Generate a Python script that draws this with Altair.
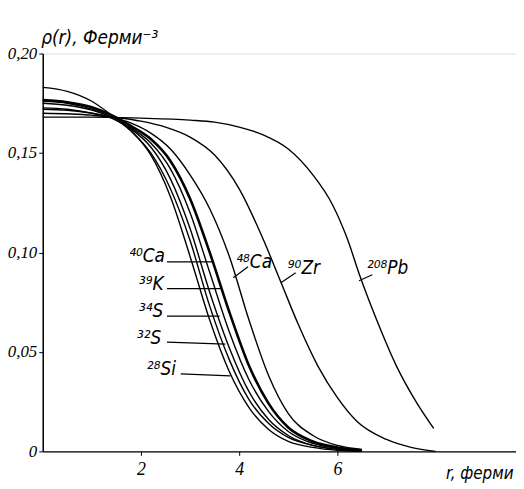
import altair as alt
import pandas as pd

# ---- data ----
r_light = [0, 0.5, 1.0, 1.4, 1.8, 2.2, 2.6, 3.0, 3.4, 3.8, 4.2, 4.6, 5.0, 5.5, 6.0, 6.5]
si28 = [0.176, 0.175, 0.172, 0.168, 0.161, 0.149, 0.128, 0.098, 0.066, 0.040, 0.022, 0.011, 0.005, 0.002, 0.0005, 0.0]
s32 = [0.183, 0.181, 0.176, 0.169, 0.161, 0.150, 0.132, 0.106, 0.073, 0.046, 0.026, 0.014, 0.007, 0.003, 0.001, 0.0]
s34 = [0.1727, 0.172, 0.170, 0.1675, 0.162, 0.153, 0.137, 0.112, 0.080, 0.052, 0.030, 0.016, 0.008, 0.003, 0.001, 0.0]
k39 = [0.175, 0.174, 0.1715, 0.168, 0.1625, 0.155, 0.142, 0.120, 0.090, 0.060, 0.036, 0.020, 0.010, 0.004, 0.0015, 0.0]
ca40 = [0.1766, 0.1755, 0.173, 0.169, 0.1635, 0.157, 0.146, 0.127, 0.100, 0.070, 0.043, 0.024, 0.012, 0.005, 0.002, 0.0005]
ca48 = [0.172, 0.1715, 0.170, 0.168, 0.165, 0.160, 0.152, 0.139, 0.122, 0.098, 0.066, 0.038, 0.019, 0.008, 0.003, 0.001]

r_zr = [0, 1, 2, 2.5, 3, 3.5, 4, 4.5, 4.85, 5.2, 5.6, 6.0, 6.4, 7.0, 7.5, 8.0]
zr90 = [0.170, 0.169, 0.166, 0.163, 0.158, 0.149, 0.132, 0.106, 0.085, 0.064, 0.043, 0.027, 0.015, 0.006, 0.002, 0.0]

r_pb = [0, 1, 2, 3, 3.5, 4, 4.5, 5, 5.5, 5.9, 6.2, 6.46, 6.8, 7.2, 7.6, 7.96]
pb208 = [0.168, 0.168, 0.1675, 0.1665, 0.1655, 0.163, 0.159, 0.152, 0.139, 0.124, 0.107, 0.088, 0.066, 0.043, 0.025, 0.0115]

label_text = ["⁴⁰Ca", "³⁹K", "³⁴S", "³²S", "²⁸Si", "⁴⁸Ca", "⁹⁰Zr", "²⁰⁸Pb"]
label_r = [1.76, 1.96, 1.96, 1.92, 2.12, 3.94, 4.99, 6.60]
label_rho = [0.098, 0.0843, 0.0703, 0.0569, 0.0414, 0.0953, 0.0923, 0.0923]
lead_r1 = [2.53, 2.53, 2.53, 2.53, 2.81, 3.88, 4.85, 6.44]
lead_r2 = [3.47, 3.62, 3.60, 3.72, 3.82, 4.18, 5.15, 6.71]
lead_y1 = [0.0953, 0.0818, 0.0680, 0.0549, 0.0390, 0.0873, 0.0848, 0.0858]
lead_y2 = [0.0953, 0.0818, 0.0680, 0.0539, 0.0380, 0.0928, 0.0898, 0.0888]

y_ticks = [0, 0.05, 0.10, 0.15, 0.20]
x_ticks = [2, 4, 6]

# ---- tables ----
rows = []
for name, rs, vals in [("28Si", r_light, si28), ("32S", r_light, s32), ("34S", r_light, s34),
                       ("39K", r_light, k39), ("48Ca", r_light, ca48),
                       ("90Zr", r_zr, zr90), ("208Pb", r_pb, pb208)]:
    for a, b in zip(rs, vals):
        rows.append({"nuc": name, "r": a, "rho": b})
df = pd.DataFrame(rows)
df_ca = pd.DataFrame({"nuc": "40Ca", "r": r_light, "rho": ca40})
labels = pd.DataFrame({"t": label_text, "r": label_r, "rho": label_rho})
leads = pd.DataFrame({"r1": lead_r1, "r2": lead_r2, "y1": lead_y1, "y2": lead_y2})

FONT = "DejaVu Sans Condensed"
NARROW = "Liberation Sans Narrow"
xs = alt.Scale(domain=[0, 9.636], nice=False, zero=False)
ys = alt.Scale(domain=[0, 0.2], nice=False)

x_axis = alt.Axis(values=x_ticks, title="r, ферми", grid=False, tickSize=4,
                  labelFontSize=18, labelPadding=5, labelFont=NARROW, labelFontStyle="italic",
                  titleFont=FONT, titleFontStyle="italic", titleFontWeight="normal", titleFontSize=17,
                  titleAnchor="end", titleAlign="right", titleX=474, titleY=27,
                  titleBaseline="alphabetic", domainColor="black", domainWidth=1.5,
                  tickColor="black", labelColor="black", titleColor="black")
y_axis = alt.Axis(values=y_ticks, title="ρ(r), Ферми⁻³", grid=False, tickSize=4,
                  labelExpr="datum.value == 0 ? '0' : replace(format(datum.value, '.2f'), '.', ',')",
                  labelFontSize=17, labelPadding=2, labelFont=NARROW, labelFontStyle="italic",
                  titleFont=FONT, titleFontStyle="italic", titleFontWeight="normal", titleFontSize=19,
                  titleAngle=0, titleAlign="left", titleBaseline="alphabetic", titleX=-2, titleY=-10,
                  domainColor="black", domainWidth=1.5, tickColor="black", labelColor="black",
                  titleColor="black")

lines = alt.Chart(df).mark_line(interpolate="monotone", color="black", strokeWidth=1.4).encode(
    x=alt.X("r:Q", scale=xs, axis=x_axis),
    y=alt.Y("rho:Q", scale=ys, axis=y_axis),
    detail="nuc:N",
)
ca_line = alt.Chart(df_ca).mark_line(interpolate="monotone", color="black", strokeWidth=2.6).encode(
    x=alt.X("r:Q", scale=xs), y=alt.Y("rho:Q", scale=ys)
)
leaders = alt.Chart(leads).mark_rule(color="black", strokeWidth=1.2).encode(
    x=alt.X("r1:Q", scale=xs), x2="r2:Q", y=alt.Y("y1:Q", scale=ys), y2="y2:Q"
)
texts = alt.Chart(labels).mark_text(align="left", baseline="middle", font=FONT, fontSize=19,
                                    fontStyle="italic", color="black").encode(
    x=alt.X("r:Q", scale=xs), y=alt.Y("rho:Q", scale=ys), text="t:N"
)

chart = alt.layer(lines, ca_line, leaders, texts).properties(
    width=477, height=401,
    autosize=alt.AutoSizeParams(type="none"),
    padding={"left": 35, "top": 44, "right": 0, "bottom": 30},
).configure_view(stroke="black", strokeWidth=1.5).configure(background="white")

chart.save("out.html", embed_options={"renderer": "svg", "actions": False})
